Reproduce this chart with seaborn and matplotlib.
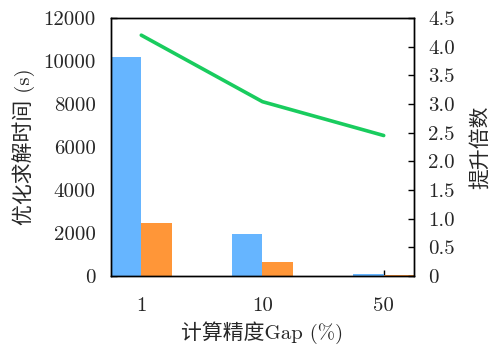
import numpy as np
import pandas as pd
import matplotlib
matplotlib.use("Agg")
import matplotlib.pyplot as plt
from matplotlib.ticker import FuncFormatter, MultipleLocator
import seaborn as sns

# Data
gaps = ["1", "10", "50"]
time_before = [10200, 1940, 95]   # blue bars (s)
time_after = [2450, 650, 25]      # orange bars (s)
speedup = [4.20, 3.04, 2.45]      # green line (right axis)

sns.set_theme(style="white")
plt.rcParams["font.family"] = ["cmr10", "Noto Sans CJK SC"]
plt.rcParams["axes.unicode_minus"] = False
plt.rcParams["mathtext.fontset"] = "cm"

df = pd.DataFrame({
    "gap": gaps * 2,
    "time": time_before + time_after,
    "kind": ["before"] * 3 + ["after"] * 3,
})

fig = plt.figure(figsize=(4.97, 3.49), dpi=100)
ax = fig.add_axes([0.2233, 0.2092, 0.6097, 0.7393])

sns.barplot(data=df, x="gap", y="time", hue="kind", order=gaps,
            hue_order=["before", "after"],
            palette=["#66b5ff", "#ff9638"], saturation=1,
            width=0.5, gap=0, linewidth=0, legend=False, ax=ax)

ax.set_xlim(-0.25, 2.25)
ax.set_ylim(0, 12000)
ax.yaxis.set_major_locator(MultipleLocator(2000))
ax.set_xlabel("计算精度Gap (%)", fontsize=15, labelpad=5)
ax.set_ylabel("优化求解时间 (s)", fontsize=15, labelpad=6)

ax2 = ax.twinx()
sns.lineplot(x=np.arange(len(gaps)), y=speedup, color="#19cc5e",
             linewidth=2.6, ax=ax2)
ax2.set_ylim(0, 4.5)
ax2.yaxis.set_major_locator(MultipleLocator(0.5))
ax2.yaxis.set_major_formatter(
    FuncFormatter(lambda v, p: "0" if abs(v) < 1e-9 else f"{v:.1f}"))
ax2.set_ylabel("提升倍数", fontsize=15, labelpad=11)

for a in (ax, ax2):
    for s in a.spines.values():
        s.set_visible(True)
        s.set_color("black")
        s.set_linewidth(1.0)

ax.tick_params(axis="both", which="both", direction="in", length=4.5,
               width=1, color="black", labelsize=15)
ax.tick_params(axis="y", left=True, right=False, pad=11)
ax.tick_params(axis="x", bottom=True, top=False, pad=15)
ax2.tick_params(axis="y", direction="in", length=4.5, width=1,
                color="black", labelsize=15, right=True, left=False, pad=10)
ax2.grid(False)
ax.grid(False)

fig.savefig("out.png", dpi=100)
